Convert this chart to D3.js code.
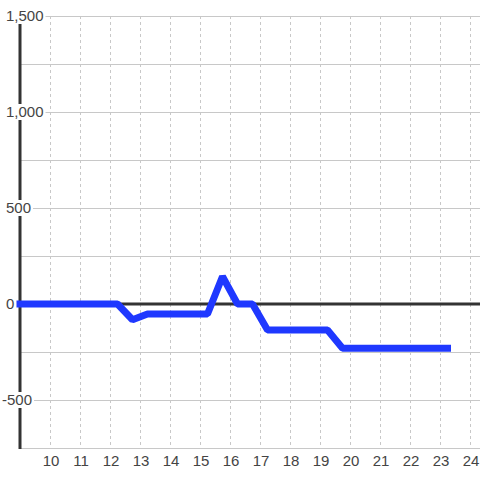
<!DOCTYPE html>
<html>
<head>
<meta charset="utf-8">
<script src="https://cdn.jsdelivr.net/npm/d3@7"></script>
<style>
  body { margin: 0; background: #fff; }
  text { font-family: "Liberation Sans", Arial, sans-serif; }
</style>
</head>
<body>
<script>
var width = 480,
    height = 480;

// line vertices (hour, value)
var hours  = [9, 12.25, 12.75, 13.25, 15.25, 15.75, 16.25, 16.75, 17.25, 19.25, 19.75, 23.25];
var values = [0, 0, -82, -52, -52, 143, 0, 0, -135, -135, -230, -230];

var xTicks = [10, 11, 12, 13, 14, 15, 16, 17, 18, 19, 20, 21, 22, 23, 24];
var yGrid = [-750, -500, -250, 0, 250, 500, 750, 1000, 1250, 1500];
var yTicks = [-500, 0, 500, 1000, 1500];

var svg = d3.select('body')
  .append('svg')
  .attr('width', width)
  .attr('height', height);

var x = d3.scaleLinear().domain([9, 24.333]).range([20, 480]);
var y = d3.scaleLinear().domain([-750, 1500]).range([448, 16]);

// horizontal grid
svg.append('g')
  .selectAll('line')
  .data(yGrid)
  .enter().append('line')
  .attr('x1', 20).attr('x2', 480)
  .attr('y1', function(d) { return Math.round(y(d)) + 0.5; })
  .attr('y2', function(d) { return Math.round(y(d)) + 0.5; })
  .attr('stroke', '#c8c8c8')
  .attr('stroke-width', 1);

// vertical dotted grid
svg.append('g')
  .selectAll('line')
  .data(xTicks)
  .enter().append('line')
  .attr('x1', function(d) { return Math.round(x(d)) + 0.5; })
  .attr('x2', function(d) { return Math.round(x(d)) + 0.5; })
  .attr('y1', 16).attr('y2', 448)
  .attr('stroke', '#c8c8c8')
  .attr('stroke-dasharray', '3,3');

// zero line
svg.append('line')
  .attr('x1', 20).attr('x2', 480)
  .attr('y1', y(0)).attr('y2', y(0))
  .attr('stroke', '#333')
  .attr('stroke-width', 3);

// y axis line
svg.append('line')
  .attr('x1', 20).attr('x2', 20)
  .attr('y1', 16).attr('y2', 449)
  .attr('stroke', '#333')
  .attr('stroke-width', 3);

// y labels with white backing
var fmt = d3.format(',');
var yl = svg.append('g')
  .selectAll('g')
  .data(yTicks)
  .enter().append('g')
  .attr('transform', function(d) { return 'translate(0,' + y(d) + ')'; });

yl.append('text')
  .attr('x', function(d) { return d < 0 ? 2 : 6; })
  .attr('dy', '0.35em')
  .attr('font-size', 15)
  .attr('fill', '#444')
  .text(function(d) { return fmt(d).replace('−', '-'); })
  .each(function() {
    var b = this.getBBox();
    d3.select(this.parentNode).insert('rect', 'text')
      .attr('x', b.x - 1).attr('y', -8)
      .attr('width', b.width + 3).attr('height', 16)
      .attr('fill', '#fff');
  });

// x labels
svg.append('g')
  .selectAll('text')
  .data(xTicks)
  .enter().append('text')
  .attr('x', function(d) { return x(d) + 1; })
  .attr('y', 461)
  .attr('dy', '0.35em')
  .attr('text-anchor', 'middle')
  .attr('font-size', 15)
  .attr('fill', '#444')
  .text(function(d) { return d; });

// data line
var pts = hours.map(function(h, i) { return [h, values[i]]; });
var line = d3.line()
  .x(function(d) { return x(d[0]); })
  .y(function(d) { return y(d[1]); });

svg.append('path')
  .datum(pts)
  .attr('d', line)
  .attr('fill', 'none')
  .attr('stroke', '#1f38ff')
  .attr('stroke-width', 7)
  .attr('stroke-linecap', 'square')
  .attr('stroke-linejoin', 'bevel');
</script>
</body>
</html>
